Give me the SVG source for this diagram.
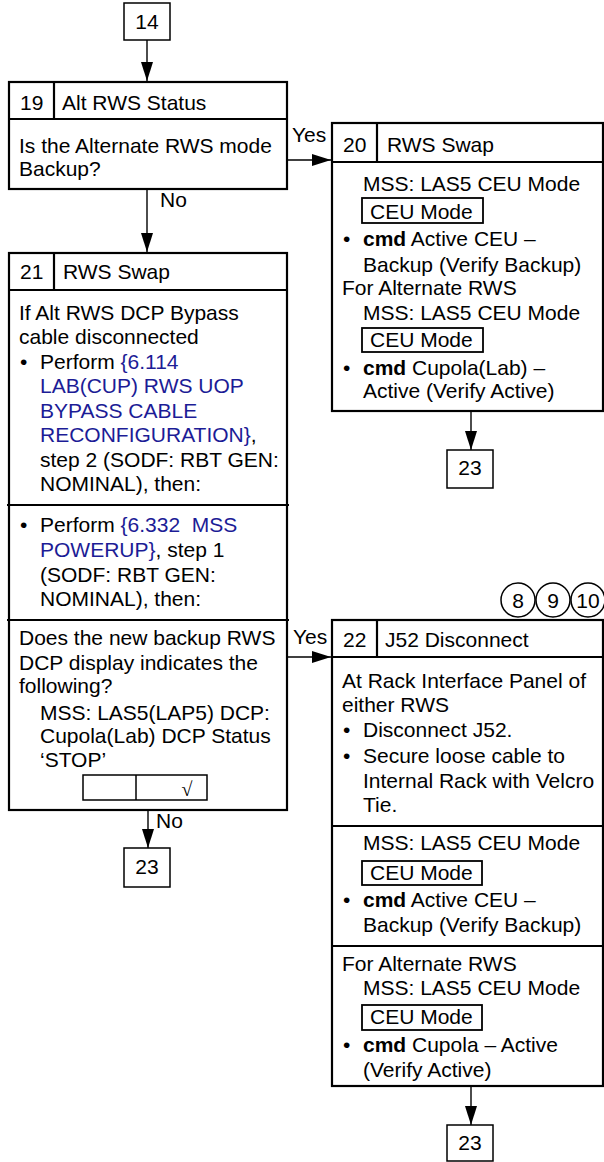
<svg xmlns="http://www.w3.org/2000/svg" width="604" height="1162" viewBox="0 0 604 1162">
<defs>
<style>
.t{font-family:"Liberation Sans",Arial,Helvetica,sans-serif;font-size:21px;fill:#000}
.c{text-anchor:middle}
.b{font-weight:bold}
.l{fill:#1c1c96}
.box{fill:#fff;stroke:#000;stroke-width:2.2}
.div{stroke:#000;stroke-width:2.2;fill:none}
.sm{fill:#fff;stroke:#000;stroke-width:1.5}
.ceu{fill:#fff;stroke:#000;stroke-width:1.8}
.ln{stroke:#000;stroke-width:1.4;fill:none}
</style>
<marker id="ah" markerUnits="userSpaceOnUse" markerWidth="19" markerHeight="12" refX="19" refY="6" orient="auto">
<path d="M0,0 L19,6 L0,12 z" fill="#000"/>
</marker>
</defs>
<rect width="604" height="1162" fill="#fff"/>

<g id="connectors">
<path class="ln" d="M147,40 V81" marker-end="url(#ah)"/>
<path class="ln" d="M287,160 H331" marker-end="url(#ah)"/>
<path class="ln" d="M147,189 V252" marker-end="url(#ah)"/>
<path class="ln" d="M471,411 V450" marker-end="url(#ah)"/>
<path class="ln" d="M287,657 H331" marker-end="url(#ah)"/>
<path class="ln" d="M148,810 V848" marker-end="url(#ah)"/>
<path class="ln" d="M471,1086 V1125" marker-end="url(#ah)"/>
<text class="t" x="292" y="142">Yes</text>
<text class="t" x="160" y="207">No</text>
<text class="t" x="293" y="644">Yes</text>
<text class="t" x="156" y="828">No</text>
</g>

<g id="n14">
<rect class="sm" x="124" y="3" width="46" height="37"/>
<text class="t c" x="147" y="29">14</text>
</g>

<g id="n19">
<rect class="box" x="9" y="82" width="278" height="107"/>
<path class="div" d="M9,119 H287 M54,82 V119"/>
<text class="t" x="20" y="110">19</text>
<text class="t" x="62" y="110">Alt RWS Status</text>
<text class="t" x="19" y="153">Is the Alternate RWS mode</text>
<text class="t" x="19" y="176">Backup?</text>
</g>

<g id="n20">
<rect class="box" x="332" y="123" width="271" height="288"/>
<path class="div" d="M332,162 H603 M377,123 V162"/>
<text class="t" x="343" y="152">20</text>
<text class="t" x="387" y="152">RWS Swap</text>
<text class="t" x="363" y="191">MSS: LAS5 CEU Mode</text>
<rect class="ceu" x="362" y="198" width="121" height="25"/>
<text class="t" x="370" y="219">CEU Mode</text>
<text class="t" x="343" y="246">•</text>
<text class="t" x="363" y="246"><tspan class="b">cmd</tspan> Active CEU –</text>
<text class="t" x="363" y="272">Backup (Verify Backup)</text>
<text class="t" x="342" y="295">For Alternate RWS</text>
<text class="t" x="363" y="320">MSS: LAS5 CEU Mode</text>
<rect class="ceu" x="362" y="328" width="121" height="24"/>
<text class="t" x="370" y="347">CEU Mode</text>
<text class="t" x="343" y="375">•</text>
<text class="t" x="363" y="375"><tspan class="b">cmd</tspan> Cupola(Lab) –</text>
<text class="t" x="363" y="398">Active (Verify Active)</text>
</g>

<g id="n23a">
<rect class="sm" x="447" y="450" width="46" height="38"/>
<text class="t c" x="470" y="475">23</text>
</g>

<g id="n21">
<rect class="box" x="9" y="253" width="278" height="557"/>
<path class="div" d="M9,290 H287 M54,253 V290 M7,505 H289 M7,620 H289"/>
<text class="t" x="20" y="279">21</text>
<text class="t" x="63" y="279">RWS Swap</text>
<text class="t" x="19" y="320">If Alt RWS DCP Bypass</text>
<text class="t" x="19" y="344">cable disconnected</text>
<text class="t" x="20" y="369">•</text>
<text class="t" x="40" y="369">Perform <tspan class="l">{6.114</tspan></text>
<text class="t l" x="40" y="393">LAB(CUP) RWS UOP</text>
<text class="t l" x="40" y="418">BYPASS CABLE</text>
<text class="t" x="40" y="442"><tspan class="l">RECONFIGURATION}</tspan>,</text>
<text class="t" x="40" y="467">step 2 (SODF: RBT GEN:</text>
<text class="t" x="40" y="491">NOMINAL), then:</text>
<text class="t" x="20" y="532">•</text>
<text class="t" x="40" y="532">Perform <tspan class="l">{6.332&#160; MSS</tspan></text>
<text class="t" x="40" y="557"><tspan class="l">POWERUP}</tspan>, step 1</text>
<text class="t" x="40" y="582">(SODF: RBT GEN:</text>
<text class="t" x="40" y="606">NOMINAL), then:</text>
<text class="t" x="19" y="645">Does the new backup RWS</text>
<text class="t" x="19" y="670">DCP display indicates the</text>
<text class="t" x="19" y="693">following?</text>
<text class="t" x="40" y="720">MSS: LAS5(LAP5) DCP:</text>
<text class="t" x="40" y="743">Cupola(Lab) DCP Status</text>
<text class="t" x="40" y="767">‘STOP’</text>
<rect class="sm" x="83" y="775" width="124" height="25"/>
<path class="sm" d="M136,775 V800"/>
<text class="t c" x="187" y="796" style="font-family:'Liberation Serif','DejaVu Serif',serif;font-size:20px">√</text>
</g>

<g id="n23b">
<rect class="sm" x="124" y="848" width="46" height="39"/>
<text class="t c" x="147" y="874">23</text>
</g>

<g id="refs">
<circle class="sm" cx="518" cy="600" r="17"/>
<circle class="sm" cx="553" cy="600" r="17"/>
<circle class="sm" cx="588" cy="600" r="17"/>
<text class="t c" x="518" y="608">8</text>
<text class="t c" x="553" y="608">9</text>
<text class="t c" x="588" y="608">10</text>
</g>

<g id="n22">
<rect class="box" x="332" y="620" width="271" height="466"/>
<path class="div" d="M332,657 H603 M377,620 V657 M332,826 H603 M332,946 H603"/>
<text class="t" x="343" y="647">22</text>
<text class="t" x="385" y="647">J52 Disconnect</text>
<text class="t" x="342" y="688">At Rack Interface Panel of</text>
<text class="t" x="342" y="712">either RWS</text>
<text class="t" x="343" y="737">•</text>
<text class="t" x="363" y="737">Disconnect J52.</text>
<text class="t" x="343" y="763">•</text>
<text class="t" x="363" y="763">Secure loose cable to</text>
<text class="t" x="363" y="788">Internal Rack with Velcro</text>
<text class="t" x="363" y="812">Tie.</text>
<text class="t" x="363" y="850">MSS: LAS5 CEU Mode</text>
<rect class="ceu" x="362" y="861" width="120" height="24"/>
<text class="t" x="370" y="880">CEU Mode</text>
<text class="t" x="343" y="907">•</text>
<text class="t" x="363" y="907"><tspan class="b">cmd</tspan> Active CEU –</text>
<text class="t" x="363" y="932">Backup (Verify Backup)</text>
<text class="t" x="342" y="971">For Alternate RWS</text>
<text class="t" x="363" y="995">MSS: LAS5 CEU Mode</text>
<rect class="ceu" x="362" y="1005" width="120" height="25"/>
<text class="t" x="370" y="1024">CEU Mode</text>
<text class="t" x="343" y="1052">•</text>
<text class="t" x="363" y="1052"><tspan class="b">cmd</tspan> Cupola – Active</text>
<text class="t" x="363" y="1077">(Verify Active)</text>
</g>

<g id="n23c">
<rect class="sm" x="447" y="1125" width="46" height="36"/>
<text class="t c" x="470" y="1150">23</text>
</g>
</svg>
